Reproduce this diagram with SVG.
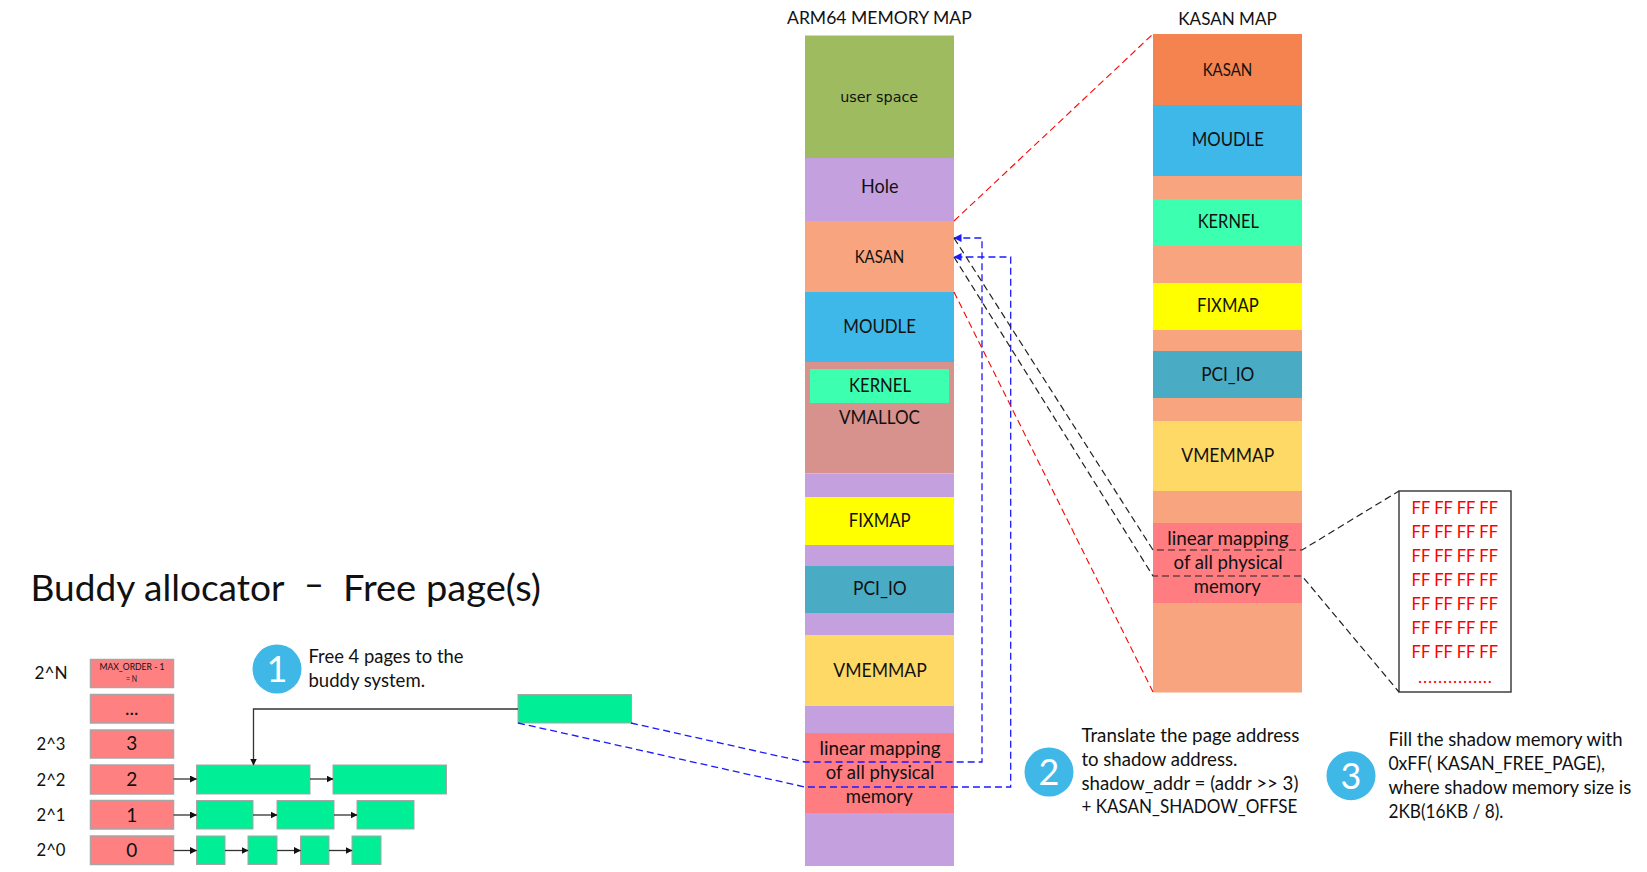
<svg xmlns="http://www.w3.org/2000/svg" width="1647" height="872" viewBox="0 0 1647 872">
<style>
text{font-family:"Lato","Liberation Sans",sans-serif;fill:#111}
.l{font-size:19.5px}.s{font-size:16.5px}.b{font-size:18.5px}.o{font-size:18px}.d{font-size:19px}
.ff{font-size:17.5px;fill:#f00}
.st{fill:#FF8080;stroke:#A6A6A6;stroke-width:1.5}
.gr{fill:#00EE96;stroke:#A6A6A6;stroke-width:1}
.circ{fill:#3FB8E8}.num{font-size:36px;fill:#fff;text-anchor:middle}
.ar{fill:none;stroke:#333;stroke-width:1.3;marker-end:url(#ah)}
.red{fill:none;stroke:#f00;stroke-width:1.1;stroke-dasharray:7 4}
.blk{fill:none;stroke:#222;stroke-width:1.2;stroke-dasharray:7 4}
.blu{fill:none;stroke:#1a1aff;stroke-width:1.3;stroke-dasharray:7 4;marker-end:url(#ab)}
.sal{fill:#F8A57F}.pur{fill:#C5A0DF}.blue{fill:#3EB8E8}.yel{fill:#FFFF00}.pci{fill:#4AABC5}.vm{fill:#FFD966}.lin{fill:#FF7C80}.ker{fill:#3CFFB0}
</style>
<defs>
<marker id="ah" markerUnits="userSpaceOnUse" markerWidth="7" markerHeight="7" refX="6.5" refY="3.5" orient="auto"><path d="M0 0L7 3.5L0 7Z" fill="#111"/></marker>
<marker id="ab" markerUnits="userSpaceOnUse" markerWidth="8" markerHeight="8" refX="7.5" refY="4" orient="auto"><path d="M0 0L8 4L0 8Z" fill="#1a1aff"/></marker>
</defs>

<text id="title" font-size="36" y="600.7"><tspan x="30.5" textLength="254" lengthAdjust="spacingAndGlyphs">Buddy allocator</tspan><tspan x="304" dy="-4" textLength="20" lengthAdjust="spacingAndGlyphs">–</tspan><tspan x="343" dy="4" textLength="198" lengthAdjust="spacingAndGlyphs">Free page(s)</tspan></text>

<g id="order-labels">
<text class="o" x="34.5" y="679" textLength="33" lengthAdjust="spacingAndGlyphs">2^N</text>
<text class="o" x="36.5" y="750" textLength="29" lengthAdjust="spacingAndGlyphs">2^3</text>
<text class="o" x="36.5" y="785.7" textLength="29" lengthAdjust="spacingAndGlyphs">2^2</text>
<text class="o" x="36.5" y="821" textLength="29" lengthAdjust="spacingAndGlyphs">2^1</text>
<text class="o" x="36.5" y="856" textLength="29" lengthAdjust="spacingAndGlyphs">2^0</text>
</g>

<g id="order-n"><rect class="st" x="90.5" y="659.5" width="83" height="28"/><text font-size="9.5" x="99.5" y="669.7" textLength="65" lengthAdjust="spacingAndGlyphs">MAX_ORDER - 1</text><text font-size="9.5" x="126" y="681.7" textLength="11" lengthAdjust="spacingAndGlyphs">= N</text></g>
<g id="order-dots"><rect class="st" x="90.5" y="694.5" width="83" height="28.5"/><text class="d" x="131.7" y="715" text-anchor="middle">...</text></g>
<g id="order-3"><rect class="st" x="90.5" y="730" width="83" height="28"/><text class="d" x="131.7" y="750" text-anchor="middle">3</text></g>
<g id="order-2"><rect class="st" x="90.5" y="765" width="83" height="29"/><text class="d" x="131.7" y="786" text-anchor="middle">2</text></g>
<g id="order-1"><rect class="st" x="90.5" y="800.5" width="83" height="28.5"/><text class="d" x="131.7" y="821.5" text-anchor="middle">1</text></g>
<g id="order-0"><rect class="st" x="90.5" y="836" width="83" height="28.5"/><text class="d" x="131.7" y="856.5" text-anchor="middle">0</text></g>

<g id="pages-2"><rect class="gr" x="196.5" y="765" width="113.5" height="29"/><rect class="gr" x="333" y="765" width="113.5" height="29"/></g>
<g id="pages-1"><rect class="gr" x="196.5" y="800.5" width="56.5" height="28.5"/><rect class="gr" x="277" y="800.5" width="57" height="28.5"/><rect class="gr" x="357" y="800.5" width="57" height="28.5"/></g>
<g id="pages-0"><rect class="gr" x="196.5" y="836" width="28.5" height="28.5"/><rect class="gr" x="248" y="836" width="29" height="28.5"/><rect class="gr" x="300.5" y="836" width="28.5" height="28.5"/><rect class="gr" x="352" y="836" width="29" height="28.5"/></g>
<g id="free-block"><rect class="gr" x="518" y="694.5" width="113.5" height="28.5"/></g>

<g id="step-1"><circle class="circ" cx="277" cy="669" r="24.5"/><text class="num" x="277" y="682">1</text>
<text class="b" x="308.5" y="663.3" textLength="155" lengthAdjust="spacingAndGlyphs">Free 4 pages to the</text><text class="b" x="308.5" y="686.7" textLength="116.5" lengthAdjust="spacingAndGlyphs">buddy system.</text></g>

<g id="arm64-map">
<text class="o" x="787" y="24" textLength="184.7" lengthAdjust="spacingAndGlyphs">ARM64 MEMORY MAP</text>
<g id="arm-user"><rect fill="#9FBB60" x="805" y="35.5" width="149" height="122.5"/><text font-size="14.5" style="font-family:'DejaVu Sans',sans-serif" x="840.2" y="101.7" textLength="78" lengthAdjust="spacingAndGlyphs">user space</text></g>
<g id="arm-hole"><rect class="pur" x="805" y="158" width="149" height="63"/><text class="l" x="861" y="193.3" textLength="37.5" lengthAdjust="spacingAndGlyphs">Hole</text></g>
<g id="arm-kasan"><rect class="sal" x="805" y="221" width="149" height="71"/><text class="s" x="854.7" y="263" textLength="49.6" lengthAdjust="spacingAndGlyphs">KASAN</text></g>
<g id="arm-module"><rect class="blue" x="805" y="292" width="149" height="70"/><text class="l" x="843.3" y="333.3" textLength="72.7" lengthAdjust="spacingAndGlyphs">MOUDLE</text></g>
<g id="arm-vmalloc"><rect fill="#D7928D" x="805" y="362" width="149" height="111.5"/><text class="l" x="839" y="424.3" textLength="81" lengthAdjust="spacingAndGlyphs">VMALLOC</text></g>
<g id="arm-kernel"><rect class="ker" x="810" y="369" width="139" height="34"/><text class="l" x="849" y="392.3" textLength="62" lengthAdjust="spacingAndGlyphs">KERNEL</text></g>
<rect class="pur" x="805" y="473.5" width="149" height="24"/>
<g id="arm-fixmap"><rect class="yel" x="805" y="497" width="149" height="48"/><text class="l" x="848.7" y="527.3" textLength="62" lengthAdjust="spacingAndGlyphs">FIXMAP</text></g>
<rect class="pur" x="805" y="545" width="149" height="21"/>
<g id="arm-pci"><rect class="pci" x="805" y="566" width="149" height="47"/><text class="l" x="853" y="595" textLength="53.7" lengthAdjust="spacingAndGlyphs">PCI_IO</text></g>
<rect class="pur" x="805" y="613" width="149" height="22"/>
<g id="arm-vmemmap"><rect class="vm" x="805" y="635" width="149" height="71"/><text class="l" x="833.3" y="677.3" textLength="93.4" lengthAdjust="spacingAndGlyphs">VMEMMAP</text></g>
<rect class="pur" x="805" y="706" width="149" height="27"/>
<g id="arm-linear"><rect class="lin" x="805" y="733" width="149" height="80"/>
<text class="l" x="819.5" y="755" textLength="121" lengthAdjust="spacingAndGlyphs">linear mapping</text><text class="l" x="825.7" y="779" textLength="108.6" lengthAdjust="spacingAndGlyphs">of all physical</text><text class="l" x="845.7" y="802.7" textLength="67" lengthAdjust="spacingAndGlyphs">memory</text></g>
<rect class="pur" x="805" y="813" width="149" height="53"/>
</g>

<g id="kasan-map">
<text class="o" x="1178.3" y="24.7" textLength="98.4" lengthAdjust="spacingAndGlyphs">KASAN MAP</text>
<rect class="sal" x="1153" y="176" width="149" height="516.5"/>
<g id="k-kasan"><rect fill="#F5834F" x="1153" y="34" width="149" height="71"/><text class="s" x="1202.7" y="76" textLength="49.6" lengthAdjust="spacingAndGlyphs">KASAN</text></g>
<g id="k-module"><rect class="blue" x="1153" y="105" width="149" height="71"/><text class="l" x="1191.7" y="146.3" textLength="72.3" lengthAdjust="spacingAndGlyphs">MOUDLE</text></g>
<g id="k-kernel"><rect class="ker" x="1153" y="199" width="149" height="47"/><text class="l" x="1197.7" y="228.3" textLength="61.3" lengthAdjust="spacingAndGlyphs">KERNEL</text></g>
<g id="k-fixmap"><rect class="yel" x="1153" y="283" width="149" height="47"/><text class="l" x="1197" y="312.3" textLength="61.7" lengthAdjust="spacingAndGlyphs">FIXMAP</text></g>
<g id="k-pci"><rect class="pci" x="1153" y="351" width="149" height="47"/><text class="l" x="1201.2" y="381.3" textLength="53.2" lengthAdjust="spacingAndGlyphs">PCI_IO</text></g>
<g id="k-vmemmap"><rect class="vm" x="1153" y="421" width="149" height="70"/><text class="l" x="1181.3" y="462.3" textLength="93" lengthAdjust="spacingAndGlyphs">VMEMMAP</text></g>
<g id="k-linear"><rect class="lin" x="1153" y="523" width="149" height="80"/>
<text class="l" x="1167.3" y="545" textLength="121.2" lengthAdjust="spacingAndGlyphs">linear mapping</text><text class="l" x="1173.6" y="569" textLength="109" lengthAdjust="spacingAndGlyphs">of all physical</text><text class="l" x="1193.7" y="593.3" textLength="67" lengthAdjust="spacingAndGlyphs">memory</text></g>
</g>

<g id="shadow-box"><rect x="1399" y="491" width="112" height="201" fill="#fff" stroke="#333" stroke-width="1.4"/>
<text class="ff" x="1411.6" y="513.5" textLength="86.4" lengthAdjust="spacingAndGlyphs">FF FF FF FF</text>
<text class="ff" x="1411.6" y="537.7" textLength="86.4" lengthAdjust="spacingAndGlyphs">FF FF FF FF</text>
<text class="ff" x="1411.6" y="561.7" textLength="86.4" lengthAdjust="spacingAndGlyphs">FF FF FF FF</text>
<text class="ff" x="1411.6" y="585.7" textLength="86.4" lengthAdjust="spacingAndGlyphs">FF FF FF FF</text>
<text class="ff" x="1411.6" y="609.7" textLength="86.4" lengthAdjust="spacingAndGlyphs">FF FF FF FF</text>
<text class="ff" x="1411.6" y="633.7" textLength="86.4" lengthAdjust="spacingAndGlyphs">FF FF FF FF</text>
<text class="ff" x="1411.6" y="657.7" textLength="86.4" lengthAdjust="spacingAndGlyphs">FF FF FF FF</text>
<text class="ff" x="1418" y="683" textLength="74" lengthAdjust="spacing">...............</text></g>

<g id="step-2"><circle class="circ" cx="1049" cy="772" r="24.5"/><text class="num" x="1049" y="785">2</text>
<text class="b" x="1081.4" y="741.7" textLength="218" lengthAdjust="spacingAndGlyphs">Translate the page address</text>
<text class="b" x="1081.4" y="765.7" textLength="156" lengthAdjust="spacingAndGlyphs">to shadow address.</text>
<text class="b" x="1081.4" y="789.7" textLength="217" lengthAdjust="spacingAndGlyphs">shadow_addr = (addr &gt;&gt; 3)</text>
<text class="b" x="1081.4" y="813.3" textLength="216" lengthAdjust="spacingAndGlyphs">+ KASAN_SHADOW_OFFSE</text></g>

<g id="step-3"><circle class="circ" cx="1351" cy="775.7" r="24.5"/><text class="num" x="1351" y="788.7">3</text>
<text class="b" x="1388.4" y="745.7" textLength="234.2" lengthAdjust="spacingAndGlyphs">Fill the shadow memory with</text>
<text class="b" x="1388.4" y="769.7" textLength="216.6" lengthAdjust="spacingAndGlyphs">0xFF( KASAN_FREE_PAGE),</text>
<text class="b" x="1388.4" y="793.7" textLength="243" lengthAdjust="spacingAndGlyphs">where shadow memory size is</text>
<text class="b" x="1388.4" y="817.7" textLength="115" lengthAdjust="spacingAndGlyphs">2KB(16KB / 8).</text></g>

<g id="connectors">
<path class="ar" d="M518 709H253.5V765"/>
<path class="ar" d="M173.5 779H196.5"/><path class="ar" d="M310 779H333"/>
<path class="ar" d="M173.5 815H196.5"/><path class="ar" d="M253 815H277"/><path class="ar" d="M334 815H357"/>
<path class="ar" d="M173.5 850.5H196.5"/><path class="ar" d="M225 850.5H248"/><path class="ar" d="M277 850.5H300.5"/><path class="ar" d="M329 850.5H352"/>
<path class="blu" d="M631 723L805 762H982V238H954"/>
<path class="blu" d="M518 723L805 787H1010.7V257H954"/>
<path class="red" d="M954 221L1153 34"/>
<path class="red" d="M954 292L1153 692"/>
<path class="blk" d="M954 238L1153 550H1302L1399 491"/>
<path class="blk" d="M954 257L1153 576H1302L1399 692"/>
</g>
</svg>
